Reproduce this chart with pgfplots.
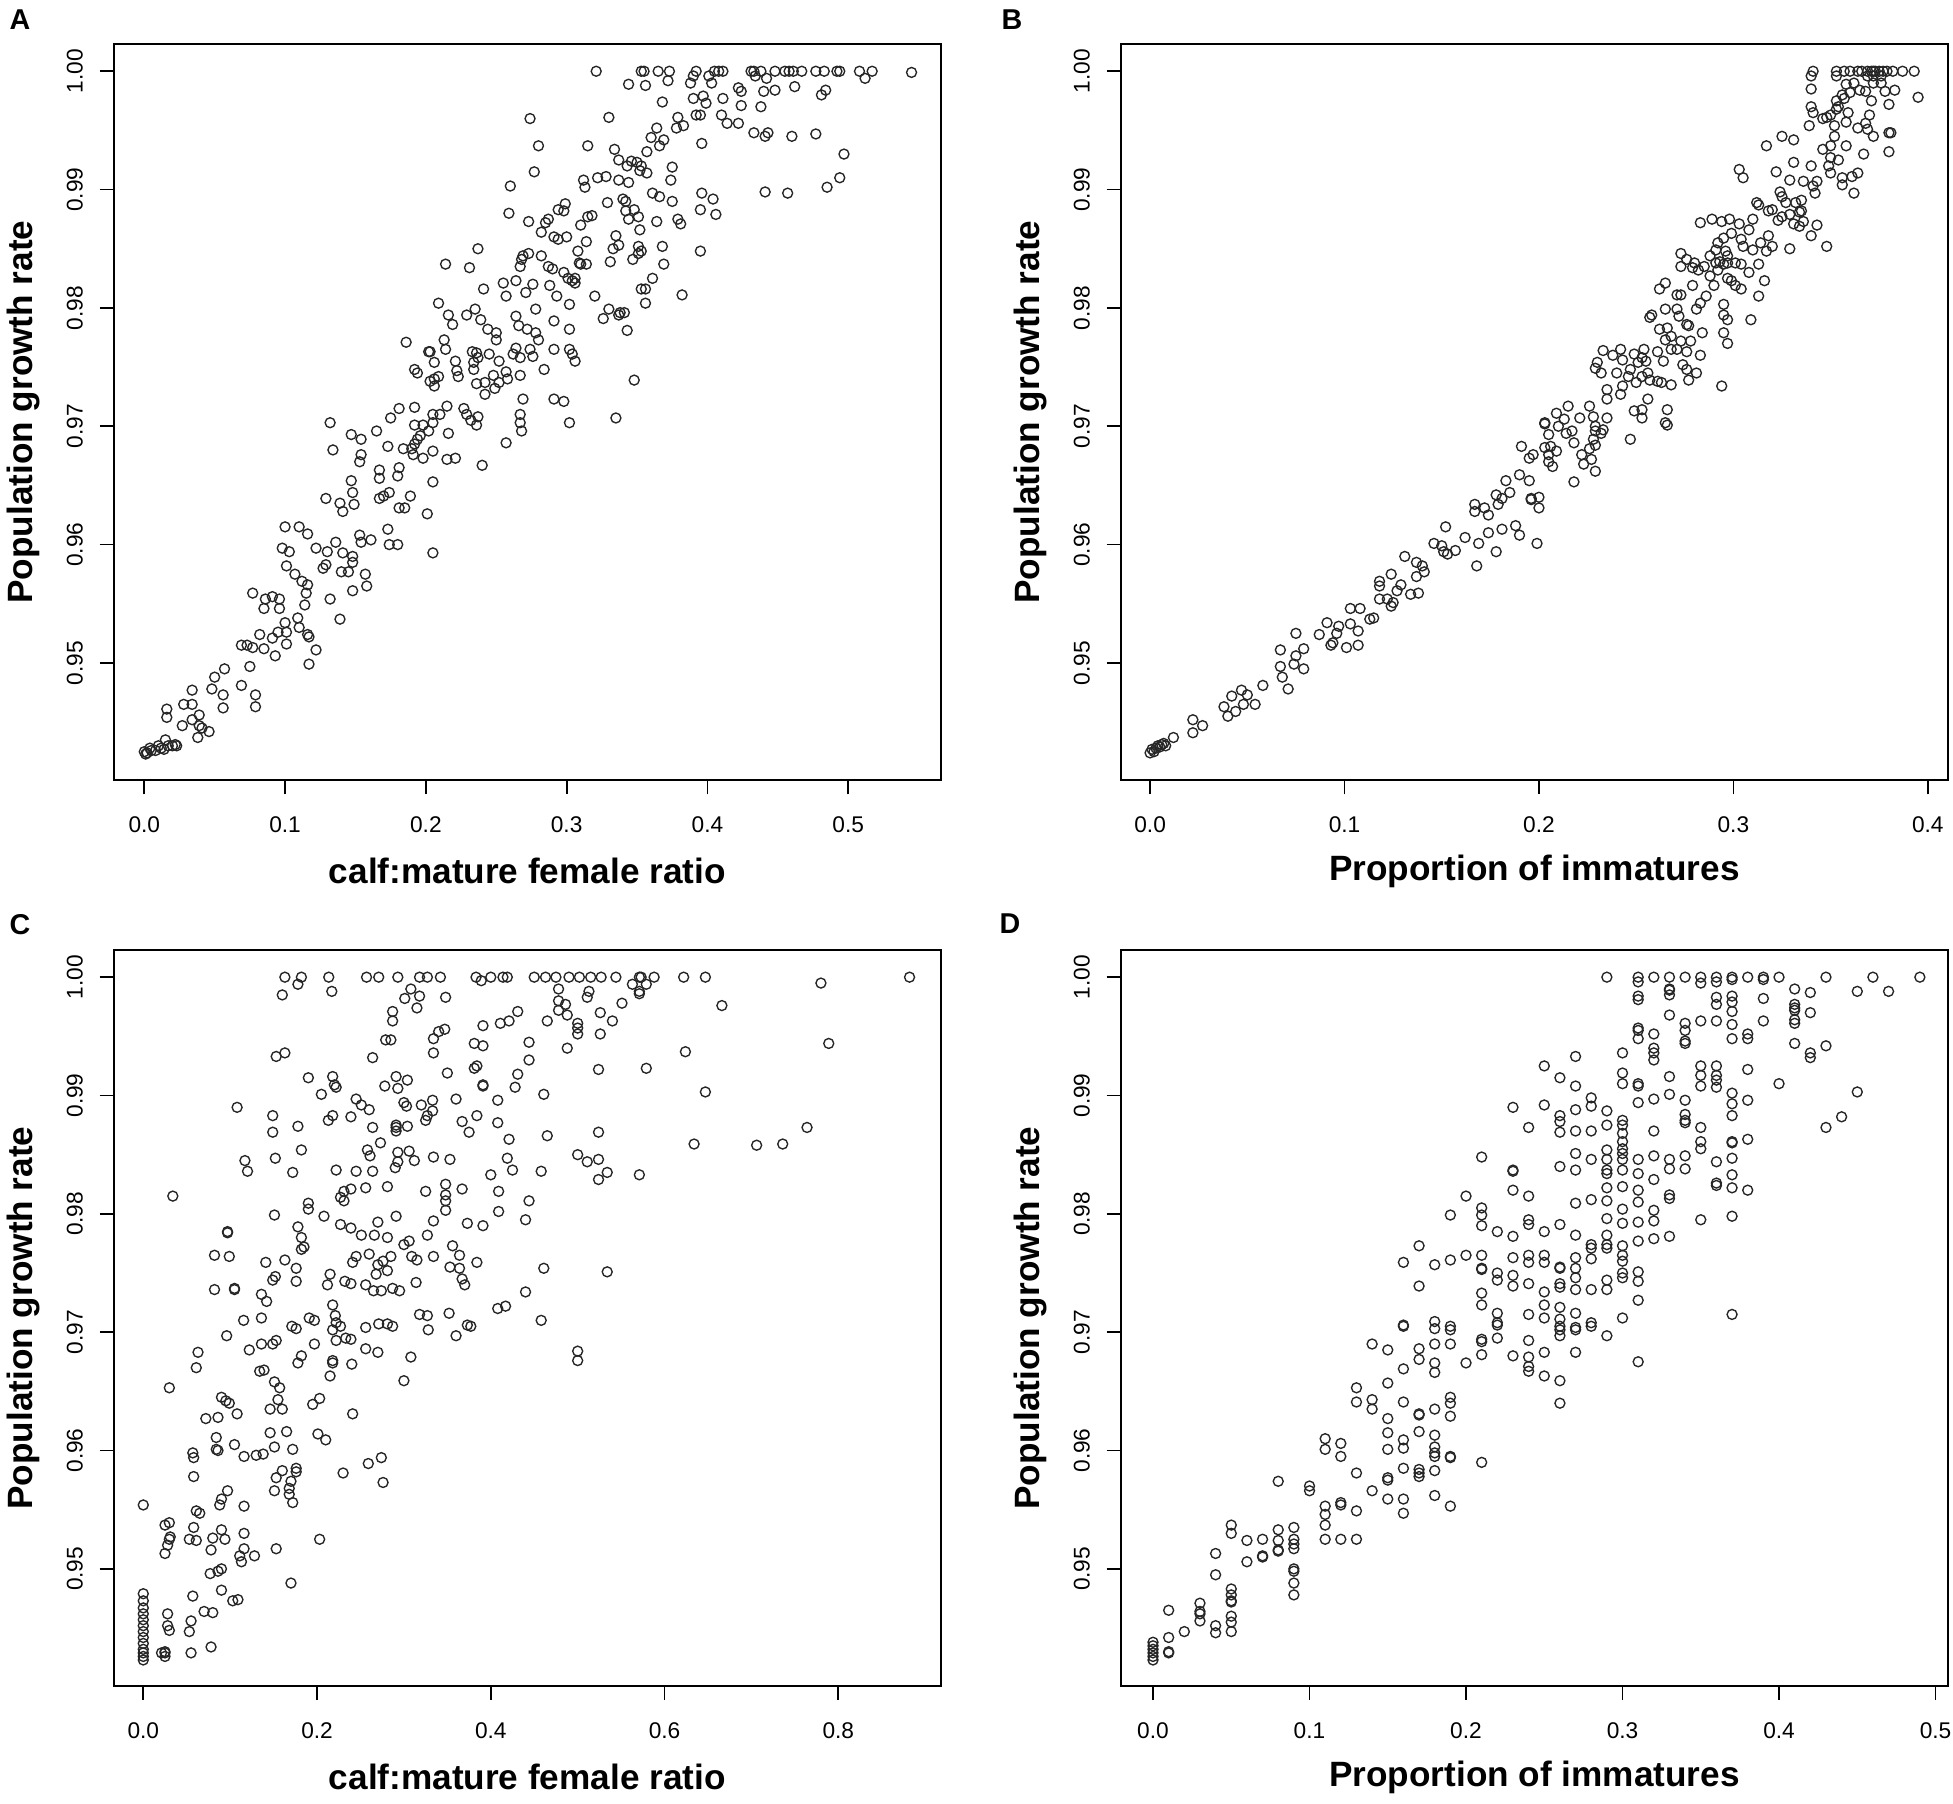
\documentclass[border=0pt]{standalone}
\usepackage{fontspec}
\setmainfont{Liberation Sans}
\usepackage{pgfplots}
\pgfplotsset{compat=1.18}
\pgfplotsset{panel/.style={
  scale only axis, width=331.6pt, height=295.1pt,
  ymin=0.9401, ymax=1.0023,
  tick align=outside, tick pos=left, major tick length=5.7pt,
  every tick/.style={black, line width=0.7pt},
  axis line style={line width=0.8pt},
  ytick={0.95,0.96,0.97,0.98,0.99,1.00},
  yticklabels={0.95,0.96,0.97,0.98,0.99,1.00},
  yticklabel style={rotate=90, anchor=south, font=\fontsize{9.1}{10}\selectfont},
  xticklabel style={anchor=north, font=\fontsize{9.1}{10}\selectfont},
  xticklabel shift=5.5pt, yticklabel shift=3.2pt,
  xlabel style={at={(axis description cs:0.5,-0.1237)}, anchor=center, font=\bfseries\fontsize{14.1}{16}\selectfont},
  ylabel style={at={(axis description cs:-0.1094,0.5)}, anchor=center, font=\bfseries\fontsize{14.1}{16}\selectfont},
  ylabel={Population growth rate},
},
pts/.style={only marks, mark=o, mark size=2.0pt, black, mark options={line width=0.55pt, draw=black!85}}}
\begin{document}
\begin{tikzpicture}
\path[use as bounding box] (0,0) rectangle (783pt,722.86pt);
% ---------------- A ----------------
\begin{axis}[panel, at={(45.6pt,410.1pt)}, anchor=south west,
  xmin=-0.0217, xmax=0.5658,
  xtick={0,0.1,0.2,0.3,0.4,0.5}, xticklabels={0.0,0.1,0.2,0.3,0.4,0.5},
  xlabel={calf:mature female ratio}]
\addplot[pts] coordinates {
(0.321,1) (0.353,1) (0.355,1) (0.365,1) (0.373,1) (0.392,1) (0.405,1) (0.408,1) (0.411,1) (0.431,1) (0.433,1) (0.438,1)
(0.448,1) (0.455,1) (0.458,1) (0.461,1) (0.467,1) (0.477,1) (0.483,1) (0.492,1) (0.494,1) (0.508,1) (0.517,1) (0.545,0.9999)
(0.344,0.9989) (0.356,0.9988) (0.372,0.9992) (0.388,0.9990) (0.390,0.9996) (0.401,0.9996) (0.403,0.9990) (0.422,0.9986)
(0.424,0.9983) (0.434,0.9996) (0.440,0.9983) (0.442,0.9994) (0.448,0.9984) (0.462,0.9987) (0.481,0.9980) (0.484,0.9984)
(0.512,0.9994) (0.368,0.9974) (0.390,0.9977) (0.397,0.9979) (0.399,0.9973) (0.411,0.9977) (0.424,0.9971) (0.438,0.9970)
(0.392,0.9963) (0.395,0.9963) (0.410,0.9963) (0.414,0.9956) (0.422,0.9956) (0.274,0.9960) (0.330,0.9961) (0.379,0.9961)
(0.383,0.9954) (0.364,0.9952) (0.360,0.9944) (0.369,0.9942) (0.366,0.9937) (0.378,0.9952) (0.433,0.9948) (0.443,0.9948)
(0.441,0.9945) (0.460,0.9945) (0.477,0.9947) (0.396,0.9939) (0.497,0.9930) (0.494,0.9910) (0.485,0.9902) (0.441,0.9898)
(0.457,0.9897) (0.396,0.9897) (0.404,0.9892) (0.395,0.9883) (0.406,0.9879) (0.280,0.9937) (0.315,0.9937) (0.334,0.9934)
(0.337,0.9925) (0.343,0.9920) (0.346,0.9924) (0.350,0.9923) (0.353,0.9920) (0.352,0.9916) (0.357,0.9914) (0.357,0.9932)
(0.277,0.9915) (0.312,0.9908) (0.313,0.9902) (0.322,0.9910) (0.328,0.9911) (0.337,0.9908) (0.344,0.9906) (0.375,0.9919)
(0.374,0.9908) (0.260,0.9903) (0.259,0.9880) (0.340,0.9892) (0.342,0.9890) (0.329,0.9889) (0.361,0.9897) (0.366,0.9894)
(0.375,0.9890) (0.342,0.9882) (0.348,0.9883) (0.351,0.9877) (0.344,0.9875) (0.364,0.9873) (0.379,0.9875) (0.381,0.9871)
(0.294,0.9883) (0.299,0.9888) (0.298,0.9882) (0.315,0.9877) (0.318,0.9878) (0.287,0.9875) (0.285,0.9872) (0.273,0.9873)
(0.310,0.9870) (0.352,0.9866) (0.282,0.9864) (0.291,0.9860) (0.300,0.9860) (0.294,0.9858) (0.335,0.9861) (0.314,0.9856)
(0.337,0.9853) (0.333,0.9850) (0.351,0.9852) (0.353,0.9848) (0.368,0.9852) (0.395,0.9848) (0.237,0.9850) (0.214,0.9837)
(0.231,0.9834) (0.269,0.9844) (0.273,0.9846) (0.282,0.9844) (0.267,0.9835) (0.268,0.9841) (0.287,0.9835) (0.290,0.9833)
(0.308,0.9848) (0.309,0.9838) (0.314,0.9837) (0.310,0.9837) (0.331,0.9839) (0.347,0.9841) (0.351,0.9846) (0.369,0.9837)
(0.298,0.9830) (0.301,0.9825) (0.304,0.9823) (0.306,0.9821) (0.306,0.9825) (0.255,0.9821) (0.264,0.9823) (0.276,0.9820)
(0.288,0.9819) (0.241,0.9816) (0.257,0.9810) (0.271,0.9813) (0.293,0.9810) (0.353,0.9816) (0.356,0.9816) (0.361,0.9825)
(0.320,0.9810) (0.382,0.9811) (0.209,0.9804) (0.216,0.9794) (0.219,0.9786) (0.229,0.9794) (0.235,0.9799) (0.239,0.9790)
(0.244,0.9782) (0.250,0.9779) (0.250,0.9773) (0.264,0.9793) (0.266,0.9785) (0.272,0.9782) (0.278,0.9779) (0.278,0.9799)
(0.280,0.9773) (0.291,0.9789) (0.302,0.9803) (0.302,0.9782) (0.326,0.9791) (0.330,0.9799) (0.337,0.9794) (0.338,0.9796)
(0.341,0.9796) (0.343,0.9781) (0.356,0.9804) (0.186,0.9771) (0.202,0.9763) (0.203,0.9763) (0.213,0.9773) (0.214,0.9765)
(0.206,0.9754) (0.221,0.9755) (0.233,0.9763) (0.236,0.9762) (0.237,0.9758) (0.234,0.9754) (0.245,0.9761) (0.252,0.9755)
(0.262,0.9761) (0.267,0.9758) (0.264,0.9766) (0.274,0.9765) (0.276,0.9759) (0.291,0.9765) (0.302,0.9765) (0.304,0.9761)
(0.306,0.9755) (0.234,0.9748) (0.192,0.9748) (0.194,0.9745) (0.203,0.9738) (0.206,0.9740) (0.209,0.9742) (0.222,0.9747)
(0.223,0.9742) (0.236,0.9736) (0.242,0.9737) (0.248,0.9743) (0.249,0.9732) (0.252,0.9737) (0.257,0.9746) (0.258,0.9740)
(0.267,0.9743) (0.284,0.9748) (0.348,0.9739) (0.206,0.9734) (0.242,0.9727) (0.269,0.9723) (0.291,0.9723) (0.298,0.9721)
(0.181,0.9715) (0.192,0.9716) (0.205,0.9710) (0.205,0.9703) (0.210,0.9710) (0.215,0.9717) (0.227,0.9715) (0.229,0.9710)
(0.237,0.9708) (0.232,0.9705) (0.236,0.9701) (0.267,0.9710) (0.267,0.9703) (0.268,0.9696) (0.302,0.9703) (0.335,0.9707)
(0.132,0.9703) (0.175,0.9707) (0.192,0.9701) (0.198,0.9701) (0.202,0.9696) (0.165,0.9696) (0.147,0.9693) (0.154,0.9689)
(0.216,0.9694) (0.196,0.9692) (0.194,0.9689) (0.192,0.9685) (0.257,0.9686) (0.134,0.9680) (0.173,0.9683) (0.184,0.9681)
(0.190,0.9681) (0.191,0.9676) (0.198,0.9673) (0.205,0.9679) (0.215,0.9672) (0.221,0.9673) (0.154,0.9676) (0.153,0.9670)
(0.240,0.9667) (0.167,0.9663) (0.167,0.9656) (0.181,0.9665) (0.180,0.9658) (0.205,0.9653) (0.147,0.9654) (0.148,0.9644)
(0.129,0.9639) (0.139,0.9635) (0.141,0.9628) (0.149,0.9634) (0.167,0.9639) (0.170,0.9641) (0.174,0.9644) (0.189,0.9641)
(0.181,0.9631) (0.185,0.9631) (0.201,0.9626) (0.100,0.9615) (0.110,0.9615) (0.116,0.9609) (0.098,0.9597) (0.103,0.9594)
(0.122,0.9597) (0.130,0.9594) (0.136,0.9602) (0.141,0.9593) (0.153,0.9608) (0.154,0.9602) (0.161,0.9604) (0.173,0.9613)
(0.174,0.9600) (0.180,0.9600) (0.205,0.9593) (0.148,0.9590) (0.148,0.9585) (0.101,0.9582) (0.127,0.9580) (0.129,0.9583)
(0.140,0.9577) (0.145,0.9577) (0.157,0.9575) (0.158,0.9565) (0.107,0.9575) (0.112,0.9569) (0.116,0.9566) (0.115,0.9559)
(0.148,0.9561) (0.077,0.9559) (0.086,0.9554) (0.091,0.9556) (0.096,0.9554) (0.085,0.9546) (0.096,0.9546) (0.114,0.9549)
(0.132,0.9554) (0.139,0.9537) (0.100,0.9534) (0.109,0.9538) (0.110,0.9530) (0.082,0.9524) (0.091,0.9521) (0.095,0.9526)
(0.101,0.9526) (0.101,0.9516) (0.116,0.9524) (0.117,0.9522) (0.069,0.9515) (0.073,0.9515) (0.077,0.9513) (0.085,0.9512)
(0.093,0.9506) (0.122,0.9511) (0.075,0.9497) (0.117,0.9499) (0.057,0.9495) (0.050,0.9488) (0.069,0.9481) (0.048,0.9478)
(0.034,0.9477) (0.056,0.9473) (0.079,0.9473) (0.028,0.9465) (0.034,0.9465) (0.056,0.9462) (0.079,0.9463) (0.016,0.9461)
(0.016,0.9454) (0.039,0.9456) (0.034,0.9452) (0.027,0.9447) (0.039,0.9447) (0.041,0.9445) (0.046,0.9442) (0.038,0.9437)
(0.015,0.9435) (0.023,0.9430) (0.010,0.9430) (0.004,0.9428) (0.000,0.9425) (0.002,0.9424) (0.012,0.9428) (0.017,0.9430)
(0.008,0.9426) (0.001,0.9423) (0.005,0.9426) (0.014,0.9427) (0.020,0.9430) (0.022,0.9431)
};
\end{axis}
% ---------------- B ----------------
\begin{axis}[panel, at={(449.4pt,410.1pt)}, anchor=south west,
  xmin=-0.0150, xmax=0.4104,
  xtick={0,0.1,0.2,0.3,0.4}, xticklabels={0.0,0.1,0.2,0.3,0.4},
  xlabel={Proportion of immatures}]
\addplot[pts] coordinates {
(0.341,1) (0.353,1) (0.357,1) (0.360,1) (0.364,1) (0.366,1) (0.369,1) (0.371,1) (0.372,1) (0.373,1) (0.375,1) (0.377,1)
(0.379,1) (0.382,1) (0.387,1) (0.393,1) (0.340,0.9996) (0.353,0.9996) (0.369,0.9996) (0.372,0.9996) (0.376,0.9996)
(0.340,0.9985) (0.358,0.9989) (0.362,0.9990) (0.365,0.9984) (0.368,0.9983) (0.372,0.9990) (0.376,0.9990) (0.378,0.9983)
(0.383,0.9984) (0.395,0.9978) (0.356,0.9980) (0.360,0.9982) (0.353,0.9975) (0.357,0.9977) (0.354,0.9970) (0.371,0.9975)
(0.380,0.9972) (0.340,0.9970) (0.341,0.9965) (0.348,0.9961) (0.350,0.9963) (0.353,0.9968) (0.359,0.9965) (0.370,0.9963)
(0.339,0.9954) (0.346,0.9960) (0.352,0.9954) (0.358,0.9957) (0.364,0.9952) (0.368,0.9956) (0.369,0.9951) (0.372,0.9945)
(0.380,0.9948) (0.381,0.9948) (0.380,0.9932) (0.325,0.9945) (0.331,0.9942) (0.317,0.9937) (0.352,0.9945) (0.358,0.9937)
(0.346,0.9934) (0.350,0.9937) (0.367,0.9930) (0.350,0.9927) (0.354,0.9925) (0.349,0.9920) (0.331,0.9923) (0.322,0.9915)
(0.303,0.9917) (0.305,0.9910) (0.329,0.9908) (0.336,0.9907) (0.340,0.9920) (0.343,0.9907) (0.341,0.9903) (0.350,0.9914)
(0.356,0.9910) (0.361,0.9911) (0.364,0.9914) (0.356,0.9904) (0.362,0.9897) (0.342,0.9897) (0.324,0.9898) (0.325,0.9894)
(0.327,0.9889) (0.312,0.9889) (0.313,0.9887) (0.318,0.9882) (0.320,0.9883) (0.332,0.9889) (0.335,0.9891) (0.334,0.9881)
(0.329,0.9879) (0.325,0.9877) (0.335,0.9882) (0.323,0.9874) (0.331,0.9871) (0.336,0.9873) (0.334,0.9869) (0.343,0.9870)
(0.340,0.9861) (0.348,0.9852) (0.310,0.9875) (0.308,0.9866) (0.303,0.9871) (0.298,0.9875) (0.294,0.9873) (0.289,0.9875)
(0.283,0.9872) (0.299,0.9863) (0.295,0.9859) (0.292,0.9855) (0.304,0.9858) (0.318,0.9861) (0.320,0.9852) (0.314,0.9855)
(0.317,0.9848) (0.329,0.9850) (0.305,0.9852) (0.296,0.9848) (0.297,0.9844) (0.310,0.9849) (0.313,0.9837) (0.308,0.9830)
(0.316,0.9823) (0.313,0.9810) (0.309,0.9790) (0.273,0.9846) (0.276,0.9841) (0.280,0.9838) (0.285,0.9835) (0.288,0.9844)
(0.291,0.9849) (0.291,0.9838) (0.293,0.9839) (0.295,0.9837) (0.297,0.9838) (0.301,0.9838) (0.304,0.9837) (0.273,0.9835)
(0.279,0.9834) (0.282,0.9832) (0.288,0.9827) (0.292,0.9832) (0.297,0.9825) (0.299,0.9823) (0.301,0.9819) (0.304,0.9816)
(0.290,0.9819) (0.279,0.9819) (0.265,0.9821) (0.262,0.9816) (0.271,0.9811) (0.273,0.9811) (0.286,0.9810) (0.283,0.9804)
(0.281,0.9799) (0.295,0.9803) (0.295,0.9794) (0.297,0.9790) (0.295,0.9779) (0.297,0.9770) (0.284,0.9779) (0.265,0.9799)
(0.271,0.9799) (0.272,0.9793) (0.258,0.9794) (0.257,0.9792) (0.276,0.9786) (0.277,0.9785) (0.262,0.9782) (0.266,0.9783)
(0.268,0.9776) (0.265,0.9773) (0.273,0.9772) (0.278,0.9772) (0.276,0.9763) (0.271,0.9765) (0.268,0.9765) (0.283,0.9760)
(0.261,0.9763) (0.254,0.9765) (0.253,0.9758) (0.249,0.9761) (0.242,0.9765) (0.233,0.9764) (0.238,0.9760) (0.243,0.9756)
(0.251,0.9754) (0.255,0.9755) (0.264,0.9755) (0.230,0.9754) (0.229,0.9749) (0.232,0.9745) (0.240,0.9745) (0.247,0.9748)
(0.246,0.9742) (0.250,0.9737) (0.253,0.9742) (0.256,0.9745) (0.257,0.9739) (0.261,0.9738) (0.263,0.9737) (0.268,0.9735)
(0.276,0.9748) (0.274,0.9752) (0.281,0.9745) (0.277,0.9739) (0.243,0.9734) (0.235,0.9731) (0.242,0.9727) (0.235,0.9723)
(0.249,0.9713) (0.253,0.9714) (0.256,0.9723) (0.266,0.9714) (0.294,0.9734) (0.265,0.9703) (0.226,0.9717) (0.215,0.9717)
(0.209,0.9711) (0.221,0.9707) (0.228,0.9708) (0.235,0.9707) (0.203,0.9703) (0.213,0.9706) (0.253,0.9707)
(0.266,0.9701) (0.247,0.9689) (0.203,0.9702) (0.210,0.9700) (0.214,0.9694) (0.217,0.9696) (0.218,0.9686) (0.229,0.9700)
(0.229,0.9696) (0.233,0.9697) (0.232,0.9694) (0.228,0.9689) (0.229,0.9684) (0.205,0.9693) (0.206,0.9683) (0.203,0.9682)
(0.209,0.9679) (0.191,0.9683) (0.197,0.9676) (0.195,0.9673) (0.205,0.9676) (0.205,0.9670) (0.207,0.9666) (0.222,0.9676)
(0.223,0.9668) (0.226,0.9681) (0.227,0.9672) (0.229,0.9662) (0.218,0.9653) (0.190,0.9659) (0.195,0.9654) (0.183,0.9654)
(0.185,0.9644) (0.178,0.9642) (0.181,0.9639) (0.179,0.9634) (0.167,0.9634) (0.167,0.9628) (0.172,0.9631) (0.174,0.9625)
(0.196,0.9639) (0.200,0.9640) (0.196,0.9638) (0.200,0.9631) (0.152,0.9615) (0.162,0.9606) (0.146,0.9601) (0.150,0.9599)
(0.151,0.9594) (0.153,0.9592) (0.157,0.9595) (0.169,0.9601) (0.174,0.9610) (0.181,0.9613) (0.188,0.9616) (0.190,0.9608)
(0.199,0.9601) (0.178,0.9594) (0.168,0.9582) (0.131,0.9590) (0.137,0.9585) (0.140,0.9582) (0.141,0.9577) (0.137,0.9573)
(0.118,0.9569) (0.118,0.9565) (0.124,0.9575) (0.129,0.9566) (0.127,0.9561) (0.134,0.9558) (0.138,0.9559) (0.118,0.9554)
(0.122,0.9554) (0.125,0.9551) (0.124,0.9548) (0.103,0.9546) (0.108,0.9546) (0.113,0.9537) (0.115,0.9538) (0.091,0.9534)
(0.087,0.9524) (0.097,0.9531) (0.096,0.9525) (0.103,0.9533) (0.107,0.9527) (0.094,0.9517) (0.093,0.9515) (0.101,0.9513)
(0.107,0.9515) (0.075,0.9525) (0.067,0.9511) (0.079,0.9512) (0.075,0.9506) (0.074,0.9499) (0.067,0.9497) (0.079,0.9495)
(0.068,0.9488) (0.071,0.9478) (0.058,0.9481) (0.047,0.9477) (0.050,0.9473) (0.042,0.9472) (0.038,0.9463) (0.044,0.9459)
(0.048,0.9465) (0.054,0.9465) (0.040,0.9455) (0.022,0.9452) (0.022,0.9441) (0.027,0.9447) (0.012,0.9437) (0.007,0.9432)
(0.004,0.9430) (0.001,0.9427) (0.000,0.9424) (0.002,0.9425) (0.003,0.9428) (0.005,0.9429) (0.006,0.9431) (0.008,0.9430)
};
\end{axis}
% ---------------- C ----------------
\begin{axis}[panel, at={(45.6pt,46.9pt)}, anchor=south west,
  xmin=-0.034, xmax=0.918,
  xtick={0,0.2,0.4,0.6,0.8}, xticklabels={0.0,0.2,0.4,0.6,0.8},
  xlabel={calf:mature female ratio}]
\addplot[pts] coordinates {
(0.163,1) (0.182,1) (0.2135,1) (0.257,1) (0.271,1) (0.293,1) (0.318,1) (0.327,1) (0.342,1) (0.383,1) (0.400,1) (0.414,1)
(0.419,1) (0.450,1) (0.463,1) (0.475,1) (0.490,1) (0.502,1) (0.515,1) (0.527,1) (0.544,1) (0.571,1) (0.573,1) (0.588,1)
(0.622,1) (0.647,1) (0.882,1)
(0.178,0.9994) (0.389,0.9997) (0.563,0.9994) (0.579,0.9994) (0.571,0.9988) (0.571,0.9986) (0.780,0.9995) (0.478,0.9990)
(0.513,0.9988) (0.511,0.9983) (0.160,0.9985) (0.217,0.9988) (0.308,0.9990) (0.301,0.9982) (0.318,0.9984) (0.348,0.9983)
(0.315,0.9974) (0.478,0.9980) (0.486,0.9977) (0.478,0.9972) (0.488,0.9968) (0.551,0.9978) (0.666,0.9976) (0.431,0.9971)
(0.421,0.9963) (0.411,0.9961) (0.391,0.9959) (0.465,0.9963) (0.526,0.9970) (0.540,0.9963) (0.500,0.9961) (0.500,0.9957)
(0.500,0.9952) (0.526,0.9952) (0.287,0.9971) (0.287,0.9963) (0.347,0.9956) (0.340,0.9954) (0.334,0.9948) (0.279,0.9947)
(0.285,0.9947) (0.381,0.9944) (0.391,0.9942) (0.444,0.9945) (0.488,0.9940) (0.624,0.9937) (0.789,0.9944) (0.334,0.9936)
(0.153,0.9933) (0.163,0.9936) (0.264,0.9932) (0.444,0.9930) (0.381,0.9923) (0.384,0.9925) (0.524,0.9922) (0.579,0.9923)
(0.350,0.9919) (0.431,0.9918) (0.190,0.9915) (0.218,0.9916) (0.220,0.9909) (0.222,0.9907) (0.291,0.9916) (0.304,0.9913)
(0.278,0.9908) (0.293,0.9906) (0.391,0.9909) (0.391,0.9908) (0.428,0.9907) (0.461,0.9901) (0.647,0.9903) (0.205,0.9901)
(0.245,0.9897) (0.251,0.9892) (0.260,0.9888) (0.300,0.9894) (0.303,0.9891) (0.320,0.9892) (0.333,0.9896) (0.333,0.9887)
(0.360,0.9897) (0.408,0.9896) (0.108,0.9890) (0.149,0.9883) (0.149,0.9869) (0.178,0.9874) (0.213,0.9879) (0.218,0.9883)
(0.239,0.9882) (0.264,0.9873) (0.291,0.9875) (0.291,0.9873) (0.291,0.9870) (0.304,0.9874) (0.325,0.9879) (0.327,0.9883)
(0.367,0.9878) (0.384,0.9883) (0.375,0.9869) (0.408,0.9877) (0.421,0.9863) (0.465,0.9866) (0.524,0.9869) (0.634,0.9859)
(0.706,0.9858) (0.736,0.9859) (0.764,0.9873) (0.273,0.9860) (0.182,0.9854) (0.258,0.9854) (0.261,0.9849) (0.293,0.9852)
(0.306,0.9853) (0.293,0.9844) (0.312,0.9845) (0.334,0.9848) (0.353,0.9846) (0.419,0.9847) (0.425,0.9837) (0.290,0.9839)
(0.117,0.9845) (0.120,0.9836) (0.152,0.9847) (0.172,0.9835) (0.222,0.9837) (0.245,0.9836) (0.264,0.9836) (0.458,0.9836)
(0.500,0.9850) (0.511,0.9844) (0.524,0.9846) (0.534,0.9835) (0.524,0.9829) (0.571,0.9833) (0.400,0.9833) (0.348,0.9825)
(0.367,0.9821) (0.239,0.9821) (0.231,0.9819) (0.256,0.9822) (0.281,0.9823) (0.325,0.9819) (0.348,0.9816) (0.348,0.9811)
(0.409,0.9819) (0.444,0.9811) (0.231,0.9811) (0.227,0.9814) (0.034,0.9815) (0.190,0.9809) (0.190,0.9804) (0.151,0.9799)
(0.208,0.9798) (0.291,0.9798) (0.348,0.9803) (0.409,0.9802) (0.227,0.9791) (0.239,0.9788) (0.270,0.9793) (0.334,0.9794)
(0.373,0.9792) (0.391,0.9790) (0.440,0.9795) (0.097,0.9785) (0.097,0.9784) (0.178,0.9789) (0.182,0.9780) (0.185,0.9772)
(0.182,0.9770) (0.251,0.9782) (0.266,0.9782) (0.281,0.9780) (0.300,0.9774) (0.306,0.9777) (0.327,0.9782) (0.356,0.9773)
(0.082,0.9765) (0.099,0.9764) (0.141,0.9759) (0.163,0.9761) (0.176,0.9754) (0.241,0.9759) (0.245,0.9764) (0.260,0.9766)
(0.270,0.9757) (0.276,0.9760) (0.285,0.9764) (0.281,0.9752) (0.268,0.9749) (0.309,0.9764) (0.315,0.9761) (0.334,0.9764)
(0.364,0.9765) (0.353,0.9755) (0.364,0.9754) (0.384,0.9759) (0.461,0.9754) (0.534,0.9751) (0.152,0.9747) (0.149,0.9744)
(0.176,0.9743) (0.215,0.9749) (0.232,0.9743) (0.212,0.9740) (0.239,0.9741) (0.256,0.9740) (0.265,0.9735) (0.274,0.9735)
(0.287,0.9737) (0.295,0.9735) (0.314,0.9742) (0.367,0.9745) (0.370,0.9740) (0.082,0.9736) (0.105,0.9737) (0.105,0.9736)
(0.136,0.9732) (0.142,0.9726) (0.440,0.9734) (0.218,0.9723) (0.221,0.9714) (0.408,0.9720) (0.417,0.9722) (0.318,0.9715)
(0.327,0.9714) (0.352,0.9716)
(0.1155,0.9710) (0.136,0.9712) (0.171,0.9705) (0.176,0.9703) (0.191,0.9712) (0.197,0.9710) (0.218,0.9702) (0.222,0.9708)
(0.227,0.9705) (0.222,0.9693) (0.233,0.9695) (0.239,0.9694) (0.256,0.9704) (0.271,0.9707) (0.281,0.9707) (0.287,0.9705)
(0.328,0.9702) (0.373,0.9706) (0.377,0.9705) (0.360,0.9697) (0.458,0.9710) (0.096,0.9697) (0.122,0.9685) (0.136,0.9690)
(0.149,0.9690) (0.153,0.9693) (0.197,0.9690) (0.063,0.9683) (0.061,0.9670) (0.182,0.9680) (0.178,0.9674) (0.218,0.9676)
(0.218,0.9674) (0.240,0.9673) (0.256,0.9686) (0.270,0.9683) (0.308,0.9679) (0.500,0.9684) (0.500,0.9676) (0.134,0.9667)
(0.139,0.9668) (0.151,0.9658) (0.157,0.9653) (0.215,0.9663) (0.300,0.9659) (0.030,0.9653) (0.090,0.9645) (0.095,0.9642)
(0.099,0.9640) (0.072,0.9627) (0.086,0.9628) (0.108,0.9631) (0.146,0.9635) (0.155,0.9643) (0.160,0.9635) (0.195,0.9639)
(0.203,0.9644) (0.241,0.9631) (0.146,0.9615) (0.165,0.9616) (0.201,0.9614) (0.210,0.9609) (0.084,0.9611) (0.084,0.9601)
(0.086,0.9600) (0.105,0.9605) (0.057,0.9598) (0.058,0.9594) (0.116,0.9595) (0.130,0.9596) (0.138,0.9597) (0.151,0.9603)
(0.172,0.9601) (0.259,0.9589) (0.274,0.9594) (0.160,0.9583) (0.176,0.9585) (0.176,0.9582) (0.153,0.9577) (0.170,0.9574)
(0.168,0.9568) (0.230,0.9581) (0.276,0.9573) (0.058,0.9578) (0.151,0.9566) (0.168,0.9563) (0.172,0.9556) (0.097,0.9566)
(0.090,0.9559) (0.088,0.9554) (0.116,0.9553) (0.000,0.9554) (0.061,0.9549) (0.065,0.9547) (0.030,0.9539) (0.025,0.9537)
(0.058,0.9535) (0.090,0.9533) (0.116,0.9530) (0.031,0.9527) (0.030,0.9525) (0.053,0.9525) (0.061,0.9524) (0.080,0.9526)
(0.094,0.9525) (0.203,0.9525) (0.028,0.9520) (0.025,0.9513) (0.078,0.9516) (0.116,0.9517) (0.111,0.9511) (0.128,0.9511)
(0.113,0.9506) (0.153,0.9517) (0.077,0.9496) (0.086,0.9498) (0.090,0.9500) (0.170,0.9488) (0.090,0.9482) (0.057,0.9477)
(0.103,0.9473) (0.109,0.9474) (0.070,0.9464) (0.080,0.9463) (0.028,0.9462) (0.055,0.9456) (0.028,0.9452) (0.030,0.9448)
(0.053,0.9447) (0.078,0.9434) (0.055,0.9429) (0.000,0.9479) (0.000,0.9473) (0.000,0.9467) (0.000,0.9462) (0.000,0.9457)
(0.000,0.9452) (0.000,0.9447) (0.000,0.9442) (0.000,0.9437) (0.000,0.9432) (0.000,0.9429) (0.000,0.9426) (0.000,0.9423)
(0.025,0.9430) (0.025,0.9429) (0.025,0.9426) (0.021,0.9429)
};
\end{axis}
% ---------------- D ----------------
\begin{axis}[panel, at={(449.4pt,46.9pt)}, anchor=south west,
  xmin=-0.0205, xmax=0.508,
  xtick={0,0.1,0.2,0.3,0.4,0.5}, xticklabels={0.0,0.1,0.2,0.3,0.4,0.5},
  xlabel={Proportion of immatures}]
\addplot[pts] coordinates {
(0.29,1) (0.31,1) (0.32,1) (0.33,1) (0.34,1) (0.35,1) (0.36,1) (0.37,1) (0.38,1) (0.39,1) (0.40,1) (0.43,1) (0.46,1) (0.49,1)
(0.29,0.9887) (0.29,0.9875) (0.29,0.9854) (0.29,0.9846) (0.29,0.9837) (0.29,0.9834) (0.29,0.9822) (0.29,0.9811)
(0.29,0.9796) (0.29,0.9782) (0.29,0.9774) (0.29,0.9771) (0.29,0.9744) (0.29,0.9736)
(0.30,0.9936) (0.30,0.9919) (0.30,0.9910) (0.30,0.9879) (0.30,0.9875) (0.30,0.9868) (0.30,0.9861) (0.30,0.9855)
(0.30,0.9851) (0.30,0.9846) (0.30,0.9837) (0.30,0.9823) (0.30,0.9804) (0.30,0.9792) (0.30,0.9773) (0.30,0.9765)
(0.30,0.9760) (0.30,0.9750) (0.30,0.9746)
(0.31,0.9996) (0.31,0.9984) (0.31,0.9981) (0.31,0.9957) (0.31,0.9955) (0.31,0.9948) (0.31,0.9910) (0.31,0.9908)
(0.31,0.9894) (0.31,0.9846) (0.31,0.9834) (0.31,0.9820) (0.31,0.9810) (0.31,0.9793) (0.31,0.9777) (0.31,0.9751)
(0.31,0.9743) (0.31,0.9727)
(0.32,0.9952) (0.32,0.9940) (0.32,0.9936) (0.32,0.9930) (0.32,0.9897) (0.32,0.9870) (0.32,0.9849) (0.32,0.9829)
(0.32,0.9803) (0.32,0.9794) (0.32,0.9779)
(0.33,0.9990) (0.33,0.9989) (0.33,0.9985) (0.33,0.9968) (0.33,0.9916) (0.33,0.9901) (0.33,0.9846) (0.33,0.9838)
(0.33,0.9816) (0.33,0.9813) (0.33,0.9781)
(0.34,0.9961) (0.34,0.9955) (0.34,0.9946) (0.34,0.9944) (0.34,0.9896) (0.34,0.9884) (0.34,0.9879) (0.34,0.9877)
(0.34,0.9849) (0.34,0.9838)
(0.35,0.9995) (0.35,0.9963) (0.35,0.9925) (0.35,0.9917) (0.35,0.9908) (0.35,0.9873) (0.35,0.9861) (0.35,0.9855) (0.35,0.9795)
(0.36,0.9996) (0.36,0.9983) (0.36,0.9977) (0.36,0.9963) (0.36,0.9925) (0.36,0.9917) (0.36,0.9913) (0.36,0.9907)
(0.36,0.9844) (0.36,0.9826) (0.36,0.9824)
(0.37,0.9998) (0.37,0.9984) (0.37,0.9979) (0.37,0.9971) (0.37,0.9960) (0.37,0.9948) (0.37,0.9902) (0.37,0.9893)
(0.37,0.9883) (0.37,0.9861) (0.37,0.9860) (0.37,0.9847) (0.37,0.9833) (0.37,0.9822) (0.37,0.9798)
(0.38,0.9952) (0.38,0.9948) (0.38,0.9922) (0.38,0.9896) (0.38,0.9863) (0.38,0.9820)
(0.39,0.9998) (0.39,0.9982) (0.39,0.9963) (0.40,0.9910)
(0.41,0.9990) (0.41,0.9977) (0.41,0.9974) (0.41,0.9972) (0.41,0.9964) (0.41,0.9961) (0.41,0.9944)
(0.42,0.9987) (0.42,0.9970) (0.42,0.9936) (0.42,0.9932) (0.43,0.9942) (0.43,0.9873) (0.44,0.9882)
(0.45,0.9988) (0.45,0.9903) (0.47,0.9988)
(0.28,0.9898) (0.28,0.9891) (0.28,0.9870) (0.28,0.9846) (0.28,0.9812) (0.28,0.9774) (0.28,0.9771) (0.28,0.9762) (0.28,0.9736)
(0.27,0.9933) (0.27,0.9908) (0.27,0.9888) (0.27,0.9870) (0.27,0.9851) (0.27,0.9837) (0.27,0.9809) (0.27,0.9782)
(0.27,0.9763) (0.27,0.9754) (0.27,0.9746) (0.27,0.9736)
(0.26,0.9915) (0.26,0.9883) (0.26,0.9878) (0.26,0.9869) (0.26,0.9840) (0.26,0.9791) (0.26,0.9755) (0.26,0.9754)
(0.26,0.9741) (0.26,0.9738) (0.26,0.9721)
(0.25,0.9925) (0.25,0.9892) (0.25,0.9785) (0.25,0.9765) (0.25,0.9759) (0.25,0.9734) (0.25,0.9723)
(0.24,0.9873) (0.24,0.9815) (0.24,0.9795) (0.24,0.9791) (0.24,0.9765) (0.24,0.9759) (0.24,0.9741)
(0.23,0.9890) (0.23,0.9837) (0.23,0.9836) (0.23,0.9820) (0.23,0.9781) (0.23,0.9763) (0.23,0.9748) (0.23,0.9739)
(0.22,0.9785) (0.22,0.9750) (0.22,0.9744)
(0.21,0.9848) (0.21,0.9805) (0.21,0.9799) (0.21,0.9790) (0.21,0.9765) (0.21,0.9754) (0.21,0.9753) (0.21,0.9733) (0.21,0.9723)
(0.20,0.9815) (0.20,0.9765) (0.19,0.9799) (0.19,0.9761) (0.18,0.9757) (0.17,0.9773) (0.17,0.9739) (0.16,0.9759)
(0.37,0.9715) (0.31,0.9675) (0.30,0.9712) (0.29,0.9697) (0.28,0.9708) (0.28,0.9705)
(0.27,0.9716) (0.27,0.9704) (0.27,0.9702) (0.27,0.9683)
(0.26,0.9711) (0.26,0.9705) (0.26,0.9702) (0.26,0.9697) (0.26,0.9659) (0.26,0.9640)
(0.25,0.9712) (0.25,0.9683) (0.25,0.9663)
(0.24,0.9715) (0.24,0.9693) (0.24,0.9679) (0.24,0.9671) (0.24,0.9667) (0.23,0.9680)
(0.22,0.9716) (0.22,0.9708) (0.22,0.9706) (0.22,0.9695)
(0.21,0.9694) (0.21,0.9692) (0.21,0.9681) (0.21,0.9590) (0.20,0.9674)
(0.19,0.9705) (0.19,0.9702) (0.19,0.9690) (0.19,0.9645) (0.19,0.9640) (0.19,0.9629) (0.19,0.9595) (0.19,0.9594) (0.19,0.9553)
(0.18,0.9709) (0.18,0.9703) (0.18,0.9690) (0.18,0.9674) (0.18,0.9666) (0.18,0.9635) (0.18,0.9613) (0.18,0.9603)
(0.18,0.9598) (0.18,0.9595) (0.18,0.9583) (0.18,0.9562)
(0.17,0.9686) (0.17,0.9677) (0.17,0.9631) (0.17,0.9630) (0.17,0.9616) (0.17,0.9584) (0.17,0.9581) (0.17,0.9578)
(0.16,0.9706) (0.16,0.9705) (0.16,0.9669) (0.16,0.9641) (0.16,0.9609) (0.16,0.9602) (0.16,0.9585) (0.16,0.9559) (0.16,0.9547)
(0.15,0.9685) (0.15,0.9657) (0.15,0.9627) (0.15,0.9615) (0.15,0.9601) (0.15,0.9577) (0.15,0.9575) (0.15,0.9559)
(0.14,0.9690) (0.14,0.9643) (0.14,0.9635) (0.14,0.9566)
(0.13,0.9653) (0.13,0.9641) (0.13,0.9581) (0.13,0.9549) (0.13,0.9525)
(0.12,0.9606) (0.12,0.9595) (0.12,0.9556) (0.12,0.9554) (0.12,0.9525)
(0.11,0.9610) (0.11,0.9601) (0.11,0.9553) (0.11,0.9546) (0.11,0.9537) (0.11,0.9525)
(0.10,0.9570) (0.10,0.9566)
(0.09,0.9535) (0.09,0.9525) (0.09,0.9521) (0.09,0.9517) (0.09,0.9500) (0.09,0.9498) (0.09,0.9488) (0.09,0.9478)
(0.08,0.9574) (0.08,0.9533) (0.08,0.9524) (0.08,0.9516) (0.08,0.9515)
(0.07,0.9525) (0.07,0.9511) (0.07,0.9510) (0.06,0.9524) (0.06,0.9506)
(0.05,0.9537) (0.05,0.9530) (0.05,0.9483) (0.05,0.9478) (0.05,0.9473) (0.05,0.9472) (0.05,0.9460) (0.05,0.9455) (0.05,0.9447)
(0.04,0.9513) (0.04,0.9495) (0.04,0.9452) (0.04,0.9446)
(0.03,0.9471) (0.03,0.9464) (0.03,0.9462) (0.03,0.9456) (0.02,0.9447)
(0.01,0.9465) (0.01,0.9442) (0.01,0.9430) (0.01,0.9429)
(0.00,0.9438) (0.00,0.9435) (0.00,0.9432) (0.00,0.9429) (0.00,0.9426) (0.00,0.9423)
};
\end{axis}
\node[font=\bfseries\fontsize{11.5}{13}\selectfont] at (8.0pt,715.0pt) {A};
\node[font=\bfseries\fontsize{11.5}{13}\selectfont] at (405.7pt,715.0pt) {B};
\node[font=\bfseries\fontsize{11.5}{13}\selectfont] at (8.0pt,352.0pt) {C};
\node[font=\bfseries\fontsize{11.5}{13}\selectfont] at (404.9pt,352.6pt) {D};
\end{tikzpicture}
\end{document}
